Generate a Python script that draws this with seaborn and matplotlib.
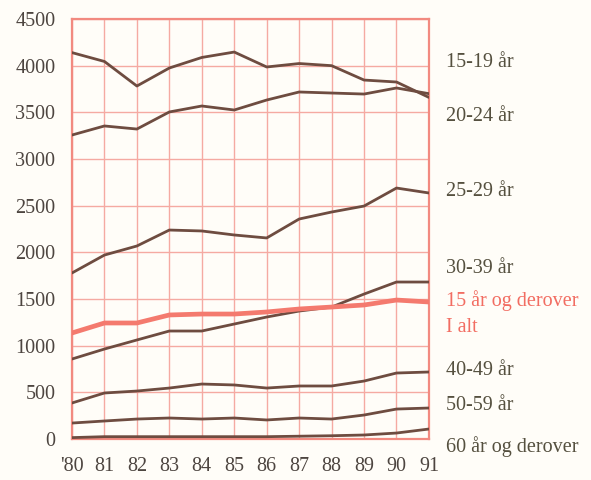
import pandas as pd
import matplotlib
matplotlib.use("Agg")
import matplotlib.pyplot as plt
import seaborn as sns

years = [80, 81, 82, 83, 84, 85, 86, 87, 88, 89, 90, 91]
year_labels = ["'80", "81", "82", "83", "84", "85", "86", "87", "88", "89", "90", "91"]

age_15_19 = [4140, 4045, 3782, 3975, 4088, 4146, 3986, 4023, 4000, 3846, 3825, 3660]
age_20_24 = [3257, 3354, 3321, 3504, 3568, 3525, 3632, 3718, 3707, 3696, 3761, 3700]
age_25_29 = [1779, 1971, 2068, 2239, 2229, 2186, 2154, 2357, 2432, 2496, 2689, 2636]
age_30_39 = [857, 964, 1061, 1157, 1157, 1232, 1307, 1371, 1414, 1553, 1682, 1682]
total = [1136, 1243, 1243, 1329, 1339, 1339, 1361, 1393, 1414, 1436, 1489, 1468]
age_40_49 = [386, 493, 514, 546, 589, 579, 546, 568, 568, 621, 707, 718]
age_50_59 = [171, 193, 214, 225, 214, 225, 204, 225, 214, 257, 321, 332]
age_60 = [15, 25, 25, 25, 25, 25, 25, 30, 35, 43, 64, 107]

series = {
    "15-19 år": age_15_19,
    "20-24 år": age_20_24,
    "25-29 år": age_25_29,
    "30-39 år": age_30_39,
    "40-49 år": age_40_49,
    "50-59 år": age_50_59,
    "60 år og derover": age_60,
    "I alt": total,
}

# label text and its y position (data units) at the right
labels = [
    ("15-19 år", 4030, "#55503f"),
    ("20-24 år", 3460, "#55503f"),
    ("25-29 år", 2657, "#55503f"),
    ("30-39 år", 1832, "#55503f"),
    ("15 år og derover", 1479, "#f26d62"),
    ("I alt", 1200, "#f26d62"),
    ("40-49 år", 739, "#55503f"),
    ("50-59 år", 354, "#55503f"),
    ("60 år og derover", -86, "#55503f"),
]

df = pd.DataFrame([
    {"year": y, "value": v, "group": g}
    for g, vals in series.items() for y, v in zip(years, vals)
])

sns.set_style("white")
plt.rcParams["font.family"] = ["Liberation Serif", "DejaVu Serif"]

line_col = "#6e4c40"
grid_col = "#f5aaa2"
bg = "#fffdf8"

fig = plt.figure(figsize=(5.91, 4.80), dpi=100, facecolor=bg)
ax = fig.add_axes([0.1218, 0.0854, 0.604, 0.875])
ax.set_facecolor(bg)

palette = {g: line_col for g in series}
palette["I alt"] = "#f47a6e"
sizes = {g: 2.0 for g in series}
sizes["I alt"] = 3.4

sns.lineplot(data=df, x="year", y="value", hue="group", size="group",
             palette=palette, sizes=sizes, legend=False, ax=ax, zorder=3)

ax.set_xlim(80, 91)
ax.set_ylim(0, 4500)
ax.set_xticks(years)
ax.set_xticklabels(year_labels)
ax.set_yticks(range(0, 4501, 500))
ax.grid(True, color=grid_col, linewidth=1.0)
ax.tick_params(axis="both", length=0, labelsize=14.5, labelcolor="#4d4540")
ax.tick_params(axis="x", pad=13)
ax.tick_params(axis="y", pad=12)
ax.set_xlabel("")
ax.set_ylabel("")
for s in ax.spines.values():
    s.set_color("#f28a80")
    s.set_linewidth(1.6)

for text, yv, col in labels:
    ax.text(91.52, yv, text, color=col, fontsize=14.5, va="center", ha="left",
            clip_on=False)

fig.savefig("out.png", dpi=100, facecolor=bg)
